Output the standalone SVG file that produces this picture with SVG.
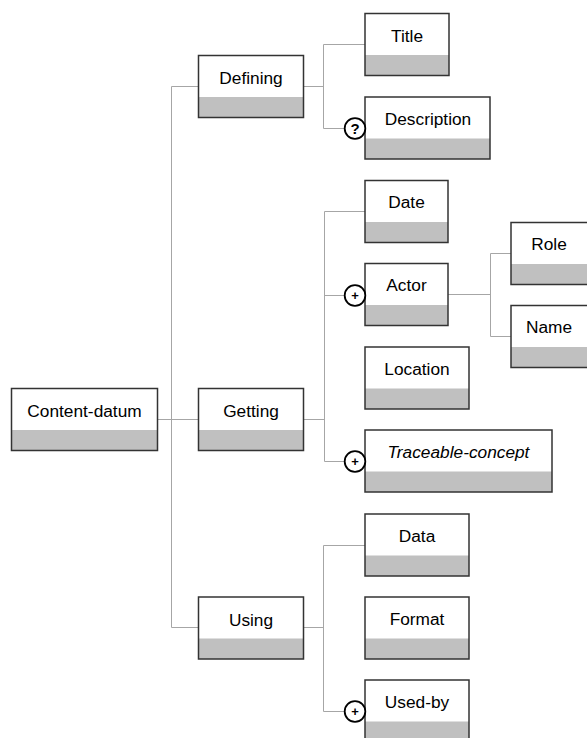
<svg xmlns="http://www.w3.org/2000/svg" width="587" height="738" viewBox="0 0 587 738">
<style>
.bg{fill:#ffffff}
.band{fill:#c0c0c0}
.frame{fill:none;stroke:#333333;stroke-width:1.5}
.lbl{font-family:"Liberation Sans",Arial,sans-serif;font-size:17.3px;fill:#000;text-anchor:middle}
.it{font-style:italic}
.conn{fill:none;stroke:#a6a6a6;stroke-width:1}
.mark{fill:#fff;stroke:#000;stroke-width:1.8}
.sym{font-family:"Liberation Sans",Arial,sans-serif;font-weight:bold;fill:#000;text-anchor:middle}
.q{font-size:15px}
.p{font-size:13px}
</style>
<rect width="587" height="738" fill="#fff"/>
<g id="connectors">
<path class="conn" d="M157.5 419.5H171.5M171.5 86.5V627.5M171.5 86.5H198.5M171.5 419.5H198.5M171.5 627.5H198.5"/>
<path class="conn" d="M303.5 86.5H323.5M323.5 44.5V128.5M323.5 44.5H365M323.5 128.5H345"/>
<path class="conn" d="M303.5 419.5H324.5M324.5 211.5V461.5M324.5 211.5H365M324.5 295.5H345M324.5 461.5H345"/>
<path class="conn" d="M448 294.5H490.5M490.5 253.5V336.5M490.5 253.5H511M490.5 336.5H511"/>
<path class="conn" d="M303.5 627.5H323.5M323.5 545.5V711.5M323.5 545.5H365M323.5 711.5H345"/>
</g>
<g id="content-datum"><rect class="bg" x="11.5" y="388.5" width="146" height="62"/><rect class="band" x="11.5" y="430" width="146" height="20.5"/><rect class="frame" x="11.5" y="388.5" width="146" height="62"/><text class="lbl" x="84.5" y="417">Content-datum</text></g>
<g id="defining"><rect class="bg" x="198.5" y="55.5" width="105" height="62"/><rect class="band" x="198.5" y="97" width="105" height="20.5"/><rect class="frame" x="198.5" y="55.5" width="105" height="62"/><text class="lbl" x="251" y="84">Defining</text></g>
<g id="getting"><rect class="bg" x="198.5" y="388.5" width="105" height="62"/><rect class="band" x="198.5" y="430" width="105" height="20.5"/><rect class="frame" x="198.5" y="388.5" width="105" height="62"/><text class="lbl" x="251" y="417">Getting</text></g>
<g id="using"><rect class="bg" x="198.5" y="597" width="105" height="62"/><rect class="band" x="198.5" y="638.5" width="105" height="20.5"/><rect class="frame" x="198.5" y="597" width="105" height="62"/><text class="lbl" x="251" y="625.5">Using</text></g>
<g id="title"><rect class="bg" x="365" y="13.5" width="84" height="62"/><rect class="band" x="365" y="55" width="84" height="20.5"/><rect class="frame" x="365" y="13.5" width="84" height="62"/><text class="lbl" x="407" y="41.5">Title</text></g>
<g id="description"><rect class="bg" x="365" y="97" width="125" height="62"/><rect class="band" x="365" y="138.5" width="125" height="20.5"/><rect class="frame" x="365" y="97" width="125" height="62"/><text class="lbl" x="428" y="124.5">Description</text><circle class="mark" cx="355" cy="128.5" r="10.3"/><text class="sym q" x="355" y="133.8">?</text></g>
<g id="date"><rect class="bg" x="365" y="180.5" width="83" height="62"/><rect class="band" x="365" y="222" width="83" height="20.5"/><rect class="frame" x="365" y="180.5" width="83" height="62"/><text class="lbl" x="406.5" y="208">Date</text></g>
<g id="actor"><rect class="bg" x="365" y="263.5" width="83" height="62"/><rect class="band" x="365" y="305" width="83" height="20.5"/><rect class="frame" x="365" y="263.5" width="83" height="62"/><text class="lbl" x="406.5" y="291">Actor</text><circle class="mark" cx="355" cy="295.5" r="10.3"/><text class="sym p" x="355" y="300">+</text></g>
<g id="role"><rect class="bg" x="511" y="222.5" width="78" height="62"/><rect class="band" x="511" y="264" width="78" height="20.5"/><rect class="frame" x="511" y="222.5" width="78" height="62"/><text class="lbl" x="549" y="250">Role</text></g>
<g id="name"><rect class="bg" x="511" y="305.5" width="78" height="62"/><rect class="band" x="511" y="347" width="78" height="20.5"/><rect class="frame" x="511" y="305.5" width="78" height="62"/><text class="lbl" x="549" y="333">Name</text></g>
<g id="location"><rect class="bg" x="365" y="347" width="104" height="62"/><rect class="band" x="365" y="388.5" width="104" height="20.5"/><rect class="frame" x="365" y="347" width="104" height="62"/><text class="lbl" x="417" y="374.5">Location</text></g>
<g id="traceable-concept"><rect class="bg" x="365" y="430" width="187" height="62"/><rect class="band" x="365" y="471.5" width="187" height="20.5"/><rect class="frame" x="365" y="430" width="187" height="62"/><text class="lbl it" x="458.5" y="457.5">Traceable-concept</text><circle class="mark" cx="355" cy="461.5" r="10.3"/><text class="sym p" x="355" y="466">+</text></g>
<g id="data"><rect class="bg" x="365" y="514" width="104" height="62"/><rect class="band" x="365" y="555.5" width="104" height="20.5"/><rect class="frame" x="365" y="514" width="104" height="62"/><text class="lbl" x="417" y="541.5">Data</text></g>
<g id="format"><rect class="bg" x="365" y="597" width="104" height="62"/><rect class="band" x="365" y="638.5" width="104" height="20.5"/><rect class="frame" x="365" y="597" width="104" height="62"/><text class="lbl" x="417" y="624.5">Format</text></g>
<g id="used-by"><rect class="bg" x="365" y="680" width="104" height="62"/><rect class="band" x="365" y="721.5" width="104" height="20.5"/><rect class="frame" x="365" y="680" width="104" height="62"/><text class="lbl" x="417" y="707.5">Used-by</text><circle class="mark" cx="355" cy="711.5" r="10.3"/><text class="sym p" x="355" y="716">+</text></g>
</svg>
